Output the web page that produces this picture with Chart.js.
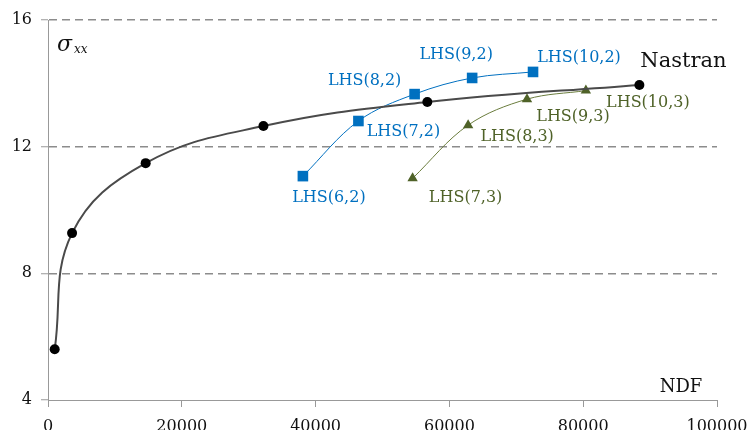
<!DOCTYPE html>
<html>
<head>
<meta charset="utf-8">
<script src="https://cdn.jsdelivr.net/npm/chart.js@4/dist/chart.umd.min.js"></script>
<style>
  html, body { margin: 0; padding: 0; background: #fff; }
  #wrap { width: 752px; height: 430px; position: relative; }
</style>
</head>
<body>
<div id="wrap"><canvas id="c" width="752" height="430"></canvas></div>
<script>
// Reference solution (Nastran): stress vs number of degrees of freedom
const ndfNastran   = [1000, 3600, 14600, 32200, 56700, 88400];
const sigmaNastran = [5.6, 9.27, 11.48, 12.65, 13.41, 13.95];

// LHS runs, second-order family
const ndfLhs2    = [38100, 46400, 54800, 63400, 72500];
const sigmaLhs2  = [11.07, 12.81, 13.66, 14.17, 14.36];
const namesLhs2  = ['LHS(6,2)', 'LHS(7,2)', 'LHS(8,2)', 'LHS(9,2)', 'LHS(10,2)'];

// LHS runs, third-order family
const ndfLhs3    = [54500, 62800, 71600, 80400];
const sigmaLhs3  = [11.0, 12.68, 13.5, 13.77];
const namesLhs3  = ['LHS(7,3)', 'LHS(8,3)', 'LHS(9,3)', 'LHS(10,3)'];

const xTickValues = [0, 20000, 40000, 60000, 80000, 100000];
const yTickValues = [4, 8, 12, 16];

const BLUE = '#0070C0';
const GREEN = '#4F6228';
const SERIF = '"DejaVu Serif", serif';

const pts = (xs, ys) => xs.map((x, i) => ({ x, y: ys[i] }));

// pixel offsets (dx, baseline dy) of each point label relative to its marker
const labelPlacement = [
  { names: ['', '', '', '', '', 'Nastran'], color: '#111', font: '21px ' + SERIF,
    offsets: [null, null, null, null, null, [44, -18]] },
  { names: namesLhs2, color: BLUE, font: '16px ' + SERIF,
    offsets: [[26, 26], [45, 15], [-50, -9], [-16, -19], [46, -10]] },
  { names: namesLhs3, color: GREEN, font: '16px ' + SERIF,
    offsets: [[53, 24], [49, 16], [46, 22], [62, 16]] }
];

const pointLabels = {
  id: 'pointLabels',
  afterDatasetsDraw(chart) {
    const ctx = chart.ctx;
    ctx.save();
    ctx.textAlign = 'center';
    ctx.textBaseline = 'alphabetic';
    labelPlacement.forEach((cfg, di) => {
      const meta = chart.getDatasetMeta(di);
      ctx.fillStyle = cfg.color;
      ctx.font = cfg.font;
      meta.data.forEach((el, i) => {
        const off = cfg.offsets[i];
        if (!off || !cfg.names[i]) return;
        ctx.fillText(cfg.names[i], el.x + off[0], el.y + off[1]);
      });
    });

    // axis titles inside the plot area
    const a = chart.chartArea;
    ctx.fillStyle = '#111';
    ctx.textAlign = 'left';
    ctx.font = 'italic 22px ' + SERIF;
    ctx.fillText('\u03C3', a.left + 9, a.top + 31);
    ctx.font = 'italic 12px ' + SERIF;
    ctx.fillText('xx', a.left + 26, a.top + 33);

    ctx.textAlign = 'center';
    ctx.font = '18px ' + SERIF;
    ctx.fillText('NDF', a.left + 633, a.bottom - 8);
    ctx.restore();
  }
};

new Chart(document.getElementById('c'), {
  type: 'scatter',
  data: {
    datasets: [
      {
        label: 'Nastran',
        data: pts(ndfNastran, sigmaNastran),
        showLine: true,
        tension: 0.4,
        borderColor: '#4a4a4a',
        borderWidth: 2,
        pointStyle: 'circle',
        pointRadius: 5,
        pointBackgroundColor: '#000',
        pointBorderColor: '#000',
        pointBorderWidth: 0
      },
      {
        label: 'LHS p=2',
        data: pts(ndfLhs2, sigmaLhs2),
        showLine: true,
        tension: 0.35,
        borderColor: BLUE,
        borderWidth: 1,
        pointStyle: 'rect',
        pointRadius: 7.5,
        pointBackgroundColor: BLUE,
        pointBorderColor: BLUE,
        pointBorderWidth: 0
      },
      {
        label: 'LHS p=3',
        data: pts(ndfLhs3, sigmaLhs3),
        showLine: true,
        tension: 0.35,
        borderColor: '#6b7d3e',
        borderWidth: 1,
        pointStyle: 'triangle',
        pointRadius: 6,
        pointBackgroundColor: GREEN,
        pointBorderColor: GREEN,
        pointBorderWidth: 0
      }
    ]
  },
  options: {
    responsive: false,
    animation: false,
    layout: { padding: { top: 20, right: 35, left: 0, bottom: 0 } },
    plugins: {
      legend: { display: false },
      tooltip: { enabled: false }
    },
    scales: {
      x: {
        type: 'linear',
        min: 0,
        max: 100000,
        afterFit(scale) {
          scale.height = 30;
          scale.paddingLeft = 0;
          scale.paddingRight = 0;
        },
        afterBuildTicks(scale) { scale.ticks = xTickValues.map(v => ({ value: v })); },
        ticks: {
          font: { family: SERIF, size: 16 },
          color: '#111',
          padding: 10,
          maxRotation: 0,
          callback: v => String(v)
        },
        grid: {
          drawOnChartArea: false,
          drawTicks: true,
          tickLength: 7,
          color: '#999',
          lineWidth: 1
        },
        border: { color: '#999', width: 1 }
      },
      y: {
        type: 'linear',
        min: 4,
        max: 16,
        afterFit(scale) { scale.width = 48; },
        afterBuildTicks(scale) { scale.ticks = yTickValues.map(v => ({ value: v })); },
        ticks: {
          font: { family: SERIF, size: 16 },
          color: '#111',
          padding: 9,
          callback: v => String(v)
        },
        grid: {
          // the lowest line is the solid x axis itself
          color: c => (c.tick && c.tick.value === 4) ? 'rgba(0,0,0,0)' : '#8c8c8c',
          lineWidth: 1.5,
          drawTicks: true,
          tickLength: 7,
          tickColor: '#999',
          tickWidth: 1
        },
        border: { color: '#999', width: 1, dash: [8, 5] }
      }
    }
  },
  plugins: [pointLabels]
});
</script>
</body>
</html>
